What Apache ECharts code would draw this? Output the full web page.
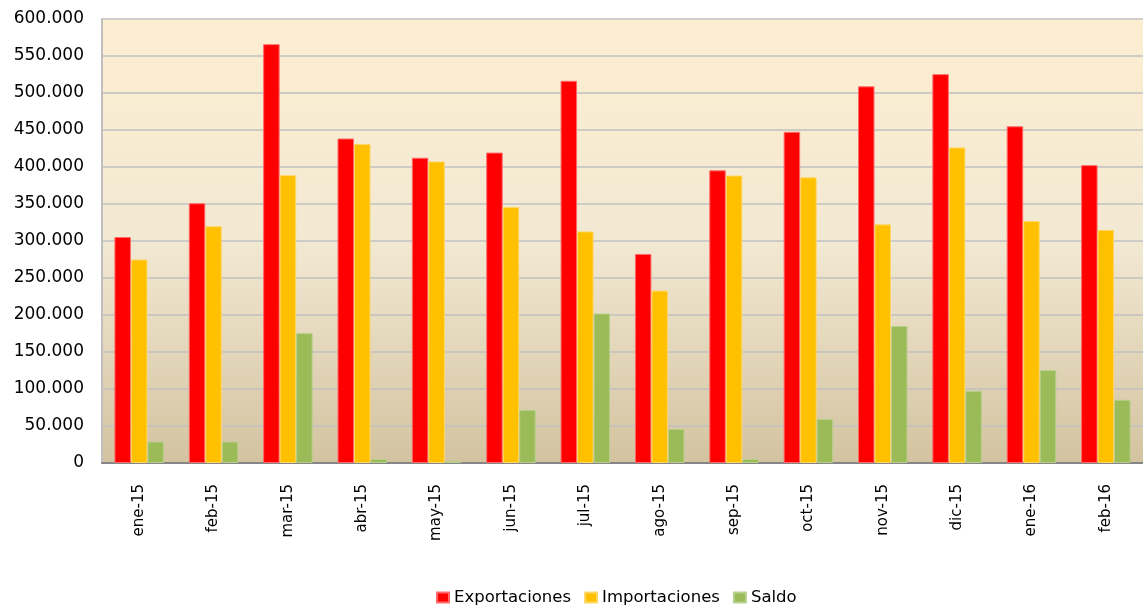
<!DOCTYPE html>
<html>
<head>
<meta charset="utf-8">
<script src="https://cdn.jsdelivr.net/npm/echarts@6/dist/echarts.min.js"></script>
<style>
  html, body { margin: 0; padding: 0; background: #fff; }
  #chart { width: 1143px; height: 608px; }
</style>
</head>
<body>
<div id="chart"></div>
<script>
// meses
var categories = ['ene-15', 'feb-15', 'mar-15', 'abr-15', 'may-15', 'jun-15', 'jul-15',
  'ago-15', 'sep-15', 'oct-15', 'nov-15', 'dic-15', 'ene-16', 'feb-16'];

var exportaciones = [305400, 351000, 566000, 438500, 412500, 419500, 516500,
  282500, 395500, 447500, 509000, 525500, 455000, 402500];
var importaciones = [275000, 320000, 389000, 431000, 407500, 346000, 313000,
  233000, 388500, 386000, 322500, 426500, 327000, 315000];
var saldo = [29000, 29000, 175500, 5500, 2800, 71500, 202000,
  46000, 5500, 59500, 185000, 97500, 125500, 85500];

var yTicks = [0, 50000, 100000, 150000, 200000, 250000, 300000,
  350000, 400000, 450000, 500000, 550000, 600000];

var myChart = echarts.init(document.getElementById('chart'));

function fmt(v) {
  return String(v).replace(/\B(?=(\d{3})+(?!\d))/g, '.');
}

var barStyle = function (color, border) {
  return { color: color, borderColor: border, borderWidth: 1 };
};

myChart.setOption({
  animation: false,
  textStyle: { fontFamily: 'DejaVu Sans' },
  grid: {
    left: 102,
    top: 19,
    width: 1043,
    height: 444,
    show: true,
    borderWidth: 0,
    backgroundColor: new echarts.graphic.LinearGradient(0, 0, 0, 1, [
      { offset: 0, color: '#FDEED1' },
      { offset: 0.5, color: '#F2E9D3' },
      { offset: 1, color: '#D3C3A0' }
    ])
  },
  legend: {
    top: 584,
    left: 431,
    icon: 'rect',
    itemWidth: 12,
    itemHeight: 10,
    itemGap: 13,
    textStyle: { fontSize: 16.5, color: '#000', fontFamily: 'DejaVu Sans' },
    data: ['Exportaciones', 'Importaciones', 'Saldo']
  },
  xAxis: {
    type: 'category',
    data: categories,
    axisTick: { show: false },
    axisLine: { lineStyle: { color: '#868686', width: 2 } },
    axisLabel: {
      rotate: 90,
      margin: 21,
      fontSize: 15,
      color: '#000',
      fontFamily: 'DejaVu Sans'
    }
  },
  yAxis: {
    type: 'value',
    min: yTicks[0],
    max: yTicks[yTicks.length - 1],
    interval: 50000,
    axisLine: { show: true, lineStyle: { color: '#BFBFBF', width: 2 } },
    axisTick: { show: false },
    splitLine: { lineStyle: { color: '#C0C0C0', width: 1.5 } },
    axisLabel: {
      fontSize: 17,
      color: '#000',
      margin: 18,
      formatter: function (v) { return fmt(v); }
    }
  },
  series: [
    {
      name: 'Exportaciones',
      type: 'bar',
      barWidth: 16.5,
      barGap: '0%',
      data: exportaciones,
      itemStyle: barStyle('#FF0000', '#FF6B6B')
    },
    {
      name: 'Importaciones',
      type: 'bar',
      barWidth: 16.5,
      barGap: '0%',
      data: importaciones,
      itemStyle: barStyle('#FFC000', '#FFD666')
    },
    {
      name: 'Saldo',
      type: 'bar',
      barWidth: 16.5,
      barGap: '0%',
      data: saldo,
      itemStyle: barStyle('#9BBB59', '#B9CF8C')
    }
  ]
});

window.addEventListener('resize', function () {
  myChart.resize();
});
</script>
</body>
</html>
